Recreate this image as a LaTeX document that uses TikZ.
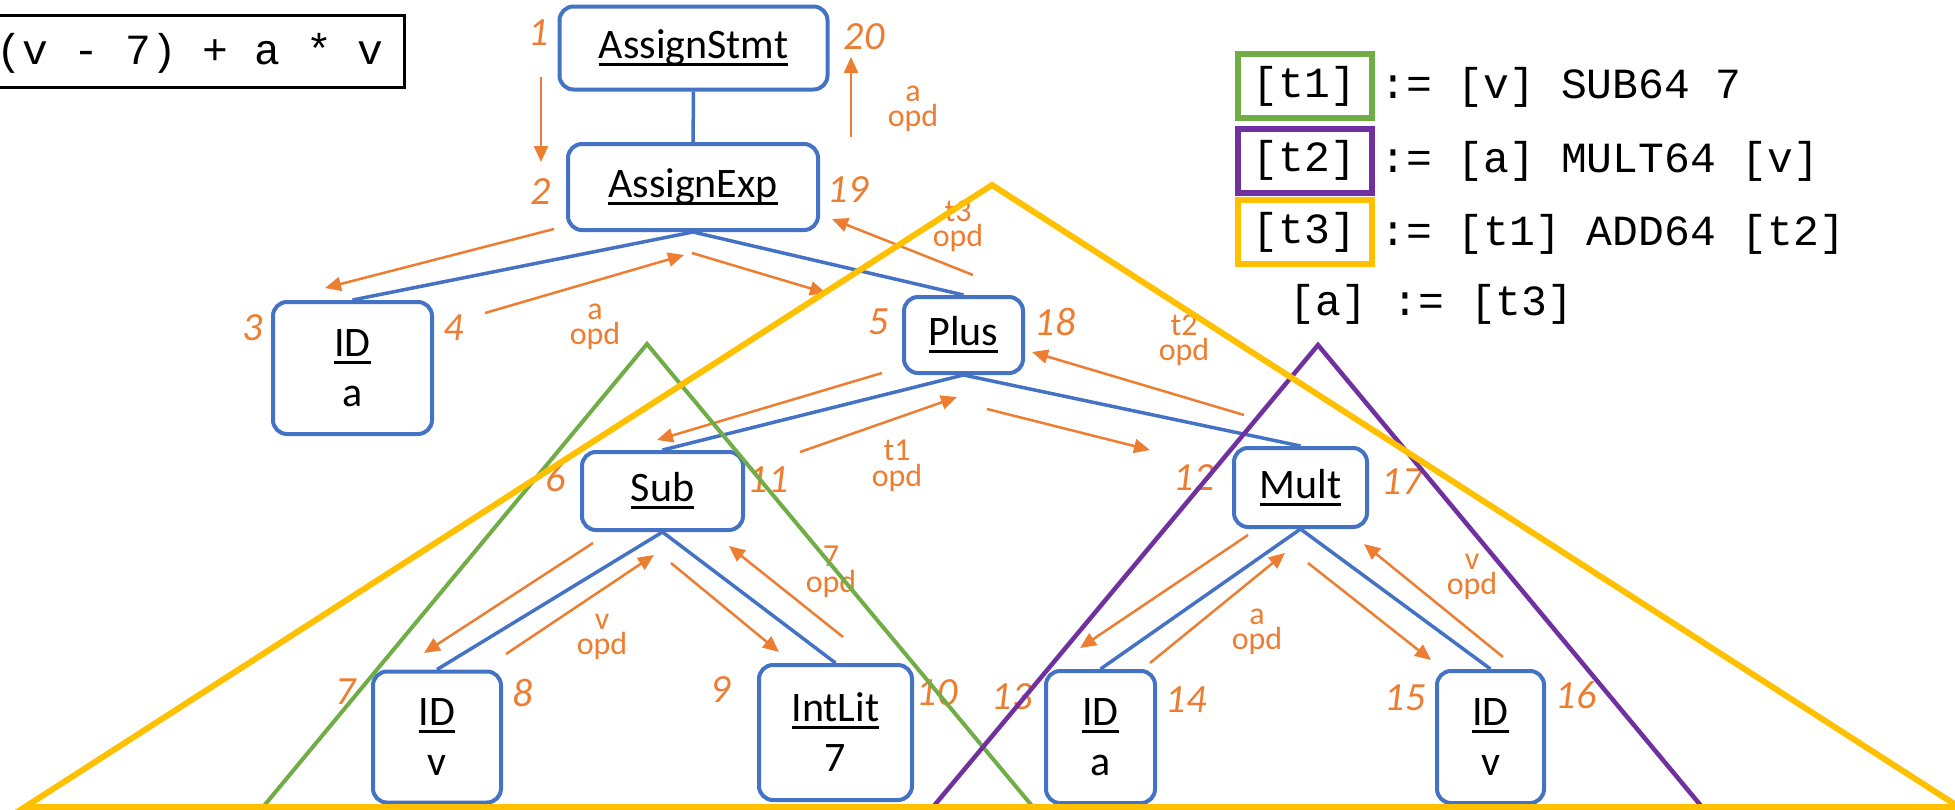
\documentclass[tikz,border=0pt]{standalone}
\usepackage{fontspec}
\setmainfont{Carlito}
\newfontfamily\codefont{Liberation Mono}
\usetikzlibrary{arrows.meta}

\definecolor{astblue}{HTML}{4472C4}
\definecolor{opdorange}{HTML}{ED7D31}
\definecolor{tgreen}{HTML}{70AD47}
\definecolor{tpurple}{HTML}{7030A0}
\definecolor{tyellow}{HTML}{FFC000}

% thick underline for the node class names
\newcommand{\astname}[1]{\setbox0=\hbox{#1}\rlap{\rule[-3.75pt]{\wd0}{1.5pt}}\box0}

\tikzset{
  ast/.style={draw=astblue, line width=2pt, rounded corners=7pt, fill=white,
    inner sep=0pt, align=center, font=\fontsize{21}{25}\selectfont},
  treeline/.style={draw=astblue, line width=1.75pt},
  walk/.style={draw=opdorange, line width=1.25pt, -{Triangle[length=8pt,width=7pt]}},
  visit/.style={text=opdorange, inner sep=0pt, font=\fontsize{20}{24}\selectfont\itshape},
  opd/.style={text=opdorange, align=center, inner sep=0pt, font=\fontsize{16}{12.75}\selectfont},
  tac/.style={inner sep=0pt, font=\codefont\fontsize{21.5}{25}\selectfont},
  tmpbox/.style={line width=3pt, minimum width=67pt, minimum height=32pt, inner sep=0pt,
    font=\codefont\fontsize{21.5}{25}\selectfont},
}

\begin{document}
\begin{tikzpicture}[x=0.5pt, y=-0.5pt]
\useasboundingbox (0,0) rectangle (1955,809);

% source expression
\draw[line width=1.5pt] (-20,15) rectangle (404,87);
\node[tac, anchor=base west] (src) at (-4,64) {(v - 7) + a * v};

% syntax tree
\node[ast, minimum width=134pt, minimum height=41.5pt] (stmt) at (693.5,48) {\astname{AssignStmt}};
\node[ast, minimum width=125pt, minimum height=43pt] (exp) at (693,187) {\astname{AssignExp}};
\node[ast, minimum width=79.5pt, minimum height=66pt] (ida) at (352.5,368) {\astname{ID}\\a};
\node[ast, minimum width=59.5pt, minimum height=38pt] (plus) at (963.5,335) {\astname{Plus}};
\node[ast, minimum width=80.5pt, minimum height=39pt] (sub) at (662.5,491) {\astname{Sub}};
\node[ast, minimum width=66.5pt, minimum height=39.5pt] (mult) at (1300.5,487.5) {\astname{Mult}};
\node[ast, minimum width=64pt, minimum height=65.5pt] (idv) at (437,737) {\astname{ID}\\v};
\node[ast, minimum width=76.5pt, minimum height=67.5pt] (lit) at (835.5,732.5) {\astname{IntLit}\\7};
\node[ast, minimum width=54.5pt, minimum height=66pt] (ida2) at (1100.5,737) {\astname{ID}\\a};
\node[ast, minimum width=53.5pt, minimum height=66pt] (idv2) at (1490.5,737) {\astname{ID}\\v};

\draw[treeline] (stmt) -- (exp);
\foreach \a/\b in {exp/ida, exp/plus, plus/sub, plus/mult, sub/idv, sub/lit, mult/ida2, mult/idv2}
  \draw[treeline] (\a.south) -- (\b.north);

% walk down and back up
\foreach \i/\sx/\sy/\ex/\ey in {1/541/77/541/162, 2/851/137/851/57,
    3/554/229/325/288, 4/485/313/684/255, 5/692/253/826/293, 6/973/275/832/219,
    7/882/373/657/440, 8/800/452/957/397, 9/987/409/1150/450, 10/1244/415/1032/352,
    11/593/543/424/653, 12/506/654/654/555, 13/671/563/779/652, 14/843/637/729/546,
    15/1248/535/1080/648, 16/1150/663/1285/553, 17/1308/563/1431/660, 18/1503/657/1364/544} {
  \coordinate (ws\i) at (\sx,\sy);
  \coordinate (we\i) at (\ex,\ey);
  \draw[walk] (ws\i) -- (we\i);
}

% visit order
\foreach \n/\x/\y in {1/539/33, 20/864/37, 2/541/192, 19/848/190, 3/253/328, 4/454/328,
    5/879/322, 18/1055/322, 6/556/478, 11/768/480, 12/1194/478, 17/1402/482,
    7/346/692, 8/523/693, 9/721/690, 10/937/693, 13/1012/697, 14/1186/700,
    15/1405/698, 16/1576/695}
  \node[visit] (n\n) at (\x,\y) {\n};

% operands passed up
\node[opd] (o20) at (913,109) {a\\opd};
\node[opd] (o4) at (595,327) {a\\opd};
\node[opd] (o6) at (958,226) {t3\\opd};
\node[opd] (o8) at (897,466) {t1\\opd};
\node[opd] (o10) at (1184,340) {t2\\opd};
\node[opd] (o12) at (602,637) {v\\opd};
\node[opd] (o14) at (831,572) {7\\opd};
\node[opd] (o16) at (1257,632) {a\\opd};
\node[opd] (o18) at (1472,577) {v\\opd};

% three-address code
\node[tmpbox, draw=tgreen] (t1) at (1304.5,86) {[t1]};
\node[tac, anchor=base west] (d1) at (1380,98) {:= [v] SUB64 7};
\node[tmpbox, draw=tpurple] (t2) at (1304.5,160.5) {[t2]};
\node[tac, anchor=base west] (d2) at (1380,172) {:= [a] MULT64 [v]};
\node[tmpbox, draw=tyellow] (t3) at (1304.5,232) {[t3]};
\node[tac, anchor=base west] (d3) at (1380,245) {:= [t1] ADD64 [t2]};
\node[tac, anchor=base west] (d4) at (1289,315) {[a] := [t3]};

% subtrees
\draw[tgreen, line width=2pt] (647,344) -- (263,807) -- (1033,807) -- cycle;
\draw[tpurple, line width=2.25pt] (1318,345) -- (933,807) -- (1702,807) -- cycle;
\draw[tyellow, line width=3pt] (992,185) -- (25,807) -- (1959,807) -- cycle;
\end{tikzpicture}
\end{document}
